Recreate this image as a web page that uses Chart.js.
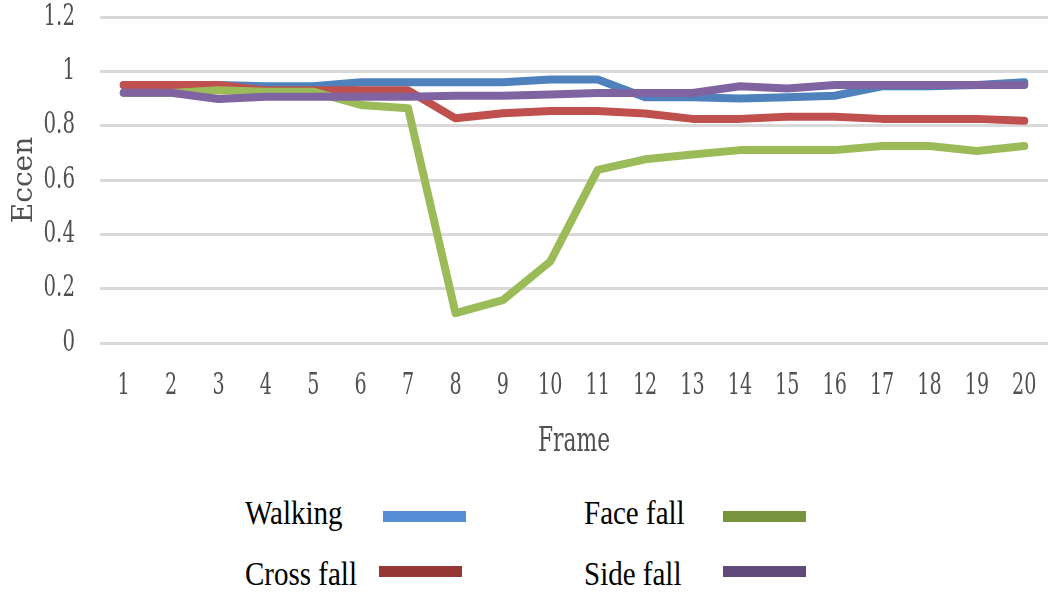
<!DOCTYPE html>
<html>
<head>
<meta charset="utf-8">
<script src="https://cdn.jsdelivr.net/npm/chart.js@4/dist/chart.umd.min.js"></script>
<style>
  html, body { margin: 0; padding: 0; background: #fff; }
  #wrap { position: relative; width: 1051px; height: 592px; overflow: hidden; background: #fff; }
  #c { position: absolute; left: 0; top: 0; }
  .lt { position: absolute; font-family: 'Liberation Serif', 'Times New Roman', serif; font-size: 29px; line-height: 29px; color: #000; white-space: nowrap; transform: scaleY(1.14); transform-origin: 0 24px; }
  .sw { position: absolute; width: 83px; height: 11px; }
</style>
</head>
<body>
<div id="wrap">
  <canvas id="c" width="1051" height="470"></canvas>
  <div id="legend"></div>
</div>
<script>
const frames = ['1','2','3','4','5','6','7','8','9','10','11','12','13','14','15','16','17','18','19','20'];
const walking = [0.95,0.95,0.95,0.945,0.945,0.96,0.96,0.96,0.96,0.97,0.97,0.905,0.905,0.9,0.905,0.91,0.945,0.945,0.95,0.96];
const crossFall = [0.95,0.95,0.95,0.93,0.93,0.93,0.93,0.827,0.846,0.854,0.854,0.845,0.825,0.825,0.833,0.833,0.825,0.825,0.825,0.818];
const faceFall = [0.92,0.92,0.93,0.925,0.925,0.876,0.864,0.11,0.158,0.30,0.637,0.676,0.694,0.71,0.71,0.71,0.725,0.725,0.707,0.725];
const sideFall = [0.921,0.921,0.898,0.906,0.906,0.906,0.906,0.91,0.91,0.915,0.92,0.92,0.92,0.945,0.937,0.95,0.95,0.95,0.95,0.95];
const seriesNames = ['Walking','Cross fall','Face fall','Side fall'];
const yTickLabels = ['0','0.2','0.4','0.6','0.8','1','1.2'];
const xTitle = 'Frame';
const yTitle = 'Eccen';

const lineColors = ['#4F81BD','#C0504D','#9BBB59','#8064A2'];
const legendColors = ['#558ED5','#953735','#77933C','#604A7B'];
const seriesData = [walking, crossFall, faceFall, sideFall];

const axisFont = "'DejaVu Serif', serif";
const textColor = '#505050';
const condense = 0.66;

const canvas = document.getElementById('c');
const ctx = canvas.getContext('2d');
// Horizontal text is drawn narrower (the original's axis font is a condensed serif)
const origFillText = ctx.fillText.bind(ctx);
ctx.fillText = function (t, x, y, mw) {
  const m = this.getTransform();
  if (Math.abs(m.b) > 1e-6 || Math.abs(m.c) > 1e-6) { return origFillText(t, x, y); }
  this.save();
  this.translate(x, y);
  this.scale(condense, 1);
  origFillText(t, 0, 0);
  this.restore();
};

new Chart(canvas, {
  type: 'line',
  data: {
    labels: frames,
    datasets: seriesData.map((d, i) => ({
      label: seriesNames[i],
      data: d,
      borderColor: lineColors[i],
      backgroundColor: lineColors[i],
      borderWidth: 8,
      pointRadius: 0,
      tension: 0,
      borderCapStyle: 'round',
      borderJoinStyle: 'round',
      order: 4 - i
    }))
  },
  options: {
    responsive: false,
    animation: false,
    layout: { padding: { top: 17, right: 3, left: 0, bottom: 0 } },
    plugins: { legend: { display: false }, tooltip: { enabled: false } },
    scales: {
      x: {
        offset: true,
        grid: { display: false, drawTicks: false },
        border: { display: false },
        ticks: { color: textColor, font: { family: axisFont, size: 29 }, padding: 26, maxRotation: 0, autoSkip: false },
        title: { display: true, text: xTitle, color: textColor, font: { family: axisFont, size: 33 }, padding: { top: 0, bottom: 8 } },
        afterFit: (s) => { s.height = 127; s.paddingLeft = 0; s.paddingRight = 0; }
      },
      y: {
        min: 0, max: 1.2,
        grid: { color: '#D9D9D9', lineWidth: 3, drawTicks: false },
        border: { display: false },
        ticks: { stepSize: 0.2, color: textColor, font: { family: axisFont, size: 30 }, padding: 25,
                 callback: (v, i) => yTickLabels[i] },
        title: { display: true, text: yTitle, color: textColor, font: { family: axisFont, size: 28 }, padding: { top: 8, bottom: 0 } },
        afterFit: (s) => { s.width = 100; s.paddingTop = 0; s.paddingBottom = 0; }
      }
    }
  }
});

// Legend (HTML)
const legendPos = [
  { tx: 245, ty: 500, sx: 383, sy: 511 },
  { tx: 245, ty: 561, sx: 379, sy: 566 },
  { tx: 584, ty: 500, sx: 723, sy: 511 },
  { tx: 584, ty: 561, sx: 723, sy: 566 }
];
const leg = document.getElementById('legend');
seriesNames.forEach((name, i) => {
  const p = legendPos[i];
  const t = document.createElement('div');
  t.className = 'lt';
  t.style.left = p.tx + 'px';
  t.style.top = p.ty + 'px';
  t.textContent = name;
  leg.appendChild(t);
  const s = document.createElement('div');
  s.className = 'sw';
  s.style.left = p.sx + 'px';
  s.style.top = p.sy + 'px';
  s.style.background = legendColors[i];
  leg.appendChild(s);
});
</script>
</body>
</html>
